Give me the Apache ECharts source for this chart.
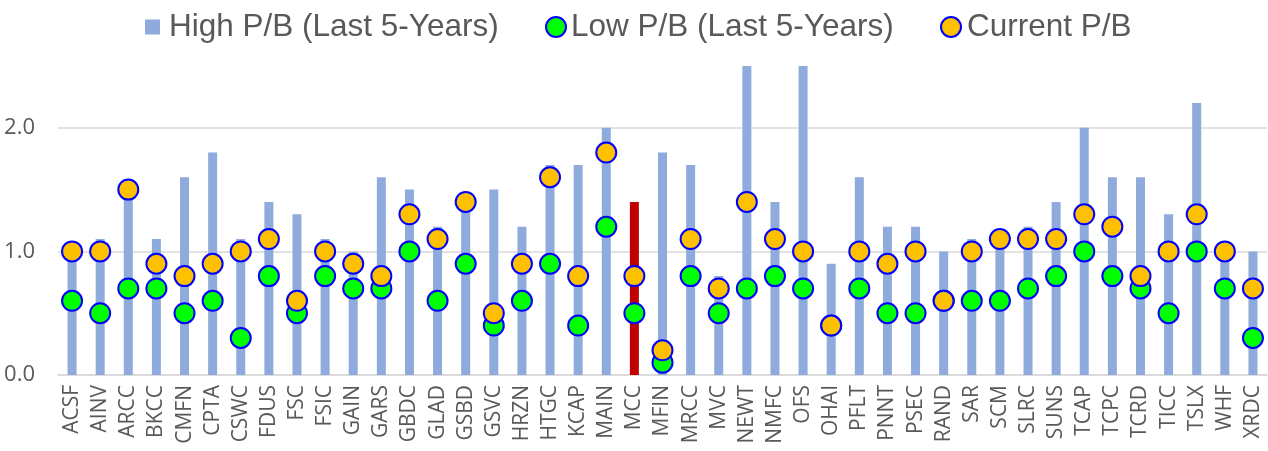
<!DOCTYPE html>
<html>
<head>
<meta charset="utf-8">
<script src="https://cdn.jsdelivr.net/npm/echarts@6/dist/echarts.min.js"></script>
<style>
  html, body { margin: 0; padding: 0; background: #fff; }
  #pbChart { width: 1268px; height: 451px; }
</style>
</head>
<body>
<div id="pbChart"></div>
<script>
// tickers
var tickers = ['ACSF', 'AINV', 'ARCC', 'BKCC', 'CMFN', 'CPTA', 'CSWC', 'FDUS', 'FSC', 'FSIC',
  'GAIN', 'GARS', 'GBDC', 'GLAD', 'GSBD', 'GSVC', 'HRZN', 'HTGC', 'KCAP', 'MAIN',
  'MCC', 'MFIN', 'MRCC', 'MVC', 'NEWT', 'NMFC', 'OFS', 'OHAI', 'PFLT', 'PNNT',
  'PSEC', 'RAND', 'SAR', 'SCM', 'SLRC', 'SUNS', 'TCAP', 'TCPC', 'TCRD', 'TICC',
  'TSLX', 'WHF', 'XRDC'];

// P/B ranges, last 5 years
var highPB = [1.0, 1.1, 1.5, 1.1, 1.6, 1.8, 1.1, 1.4, 1.3, 1.1,
  1.0, 1.6, 1.5, 1.2, 1.4, 1.5, 1.2, 1.7, 1.7, 2.0,
  1.4, 1.8, 1.7, 0.8, 2.5, 1.4, 2.5, 0.9, 1.6, 1.2,
  1.2, 1.0, 1.1, 1.1, 1.2, 1.4, 2.0, 1.6, 1.6, 1.3,
  2.2, 1.0, 1.0];
var lowPB = [0.6, 0.5, 0.7, 0.7, 0.5, 0.6, 0.3, 0.8, 0.5, 0.8,
  0.7, 0.7, 1.0, 0.6, 0.9, 0.4, 0.6, 0.9, 0.4, 1.2,
  0.5, 0.1, 0.8, 0.5, 0.7, 0.8, 0.7, 0.4, 0.7, 0.5,
  0.5, 0.6, 0.6, 0.6, 0.7, 0.8, 1.0, 0.8, 0.7, 0.5,
  1.0, 0.7, 0.3];
var currentPB = [1.0, 1.0, 1.5, 0.9, 0.8, 0.9, 1.0, 1.1, 0.6, 1.0,
  0.9, 0.8, 1.3, 1.1, 1.4, 0.5, 0.9, 1.6, 0.8, 1.8,
  0.8, 0.2, 1.1, 0.7, 1.4, 1.1, 1.0, 0.4, 1.0, 0.9,
  1.0, 0.6, 1.0, 1.1, 1.1, 1.1, 1.3, 1.2, 0.8, 1.0,
  1.3, 1.0, 0.7];
var yTicks = [0, 1, 2];
var highlightTicker = 'MCC';

(function() {
  var chart = echarts.init(document.getElementById('pbChart'));
  var textGray = '#595959';
  var names = ['High P/B (Last 5-Years)', 'Low P/B (Last 5-Years)', 'Current P/B'];

  var highData = highPB.map(function(v, i) {
    if (tickers[i] === highlightTicker) {
      return { value: v, itemStyle: { color: '#c00000' } };
    }
    return v;
  });

  var dotStyle = function(fill) {
    return { color: fill, opacity: 1, borderColor: '#0000ff', borderWidth: 2 };
  };

  // one legend per item so the bar square can be smaller than the dots
  var legendAt = function(name, left, size, icon, gap) {
    return {
      data: [{ name: name, icon: icon }],
      top: 11,
      left: left,
      padding: 0,
      itemWidth: size,
      itemHeight: size,
      textStyle: { fontFamily: 'Liberation Sans, Arial', fontSize: 31.5, color: textGray, padding: [0, 0, 0, gap] }
    };
  };

  var option = {
    animation: false,
    legend: [
      legendAt(names[0], 145, 15, 'rect', 4),
      legendAt(names[1], 545, 20, 'circle', 0),
      legendAt(names[2], 940, 20, 'circle', 1)
    ],
    grid: { left: 58, right: 1, top: 66, bottom: 76 },
    xAxis: {
      type: 'category',
      data: tickers,
      axisLine: { lineStyle: { color: '#d9d9d9', width: 1.5 } },
      axisTick: { show: false },
      axisLabel: {
        rotate: 90,
        interval: 0,
        margin: 10,
        fontFamily: 'Open Sans',
        fontSize: 21,
        color: textGray
      }
    },
    yAxis: {
      type: 'value',
      min: 0,
      max: 2.5,
      interval: 1,
      axisLine: { show: false },
      axisTick: { show: false },
      splitLine: { lineStyle: { color: ['#d9d9d9', '#d9d9d9', '#d9d9d9', 'rgba(0,0,0,0)'], width: 1.5 } },
      axisLabel: {
        margin: 23,
        fontFamily: 'Open Sans',
        fontSize: 22,
        color: textGray,
        showMaxLabel: false,
        formatter: function(v) {
          return yTicks.indexOf(v) >= 0 ? v.toFixed(1) : '';
        }
      }
    },
    series: [
      {
        name: names[0],
        type: 'bar',
        barWidth: 9,
        itemStyle: { color: '#8faadc' },
        data: highData
      },
      {
        name: names[1],
        type: 'scatter',
        symbolSize: 20,
        itemStyle: dotStyle('#00ff00'),
        data: lowPB
      },
      {
        name: names[2],
        type: 'scatter',
        symbolSize: 20,
        itemStyle: dotStyle('#ffc000'),
        data: currentPB
      }
    ]
  };
  chart.setOption(option);
})();
</script>
</body>
</html>
